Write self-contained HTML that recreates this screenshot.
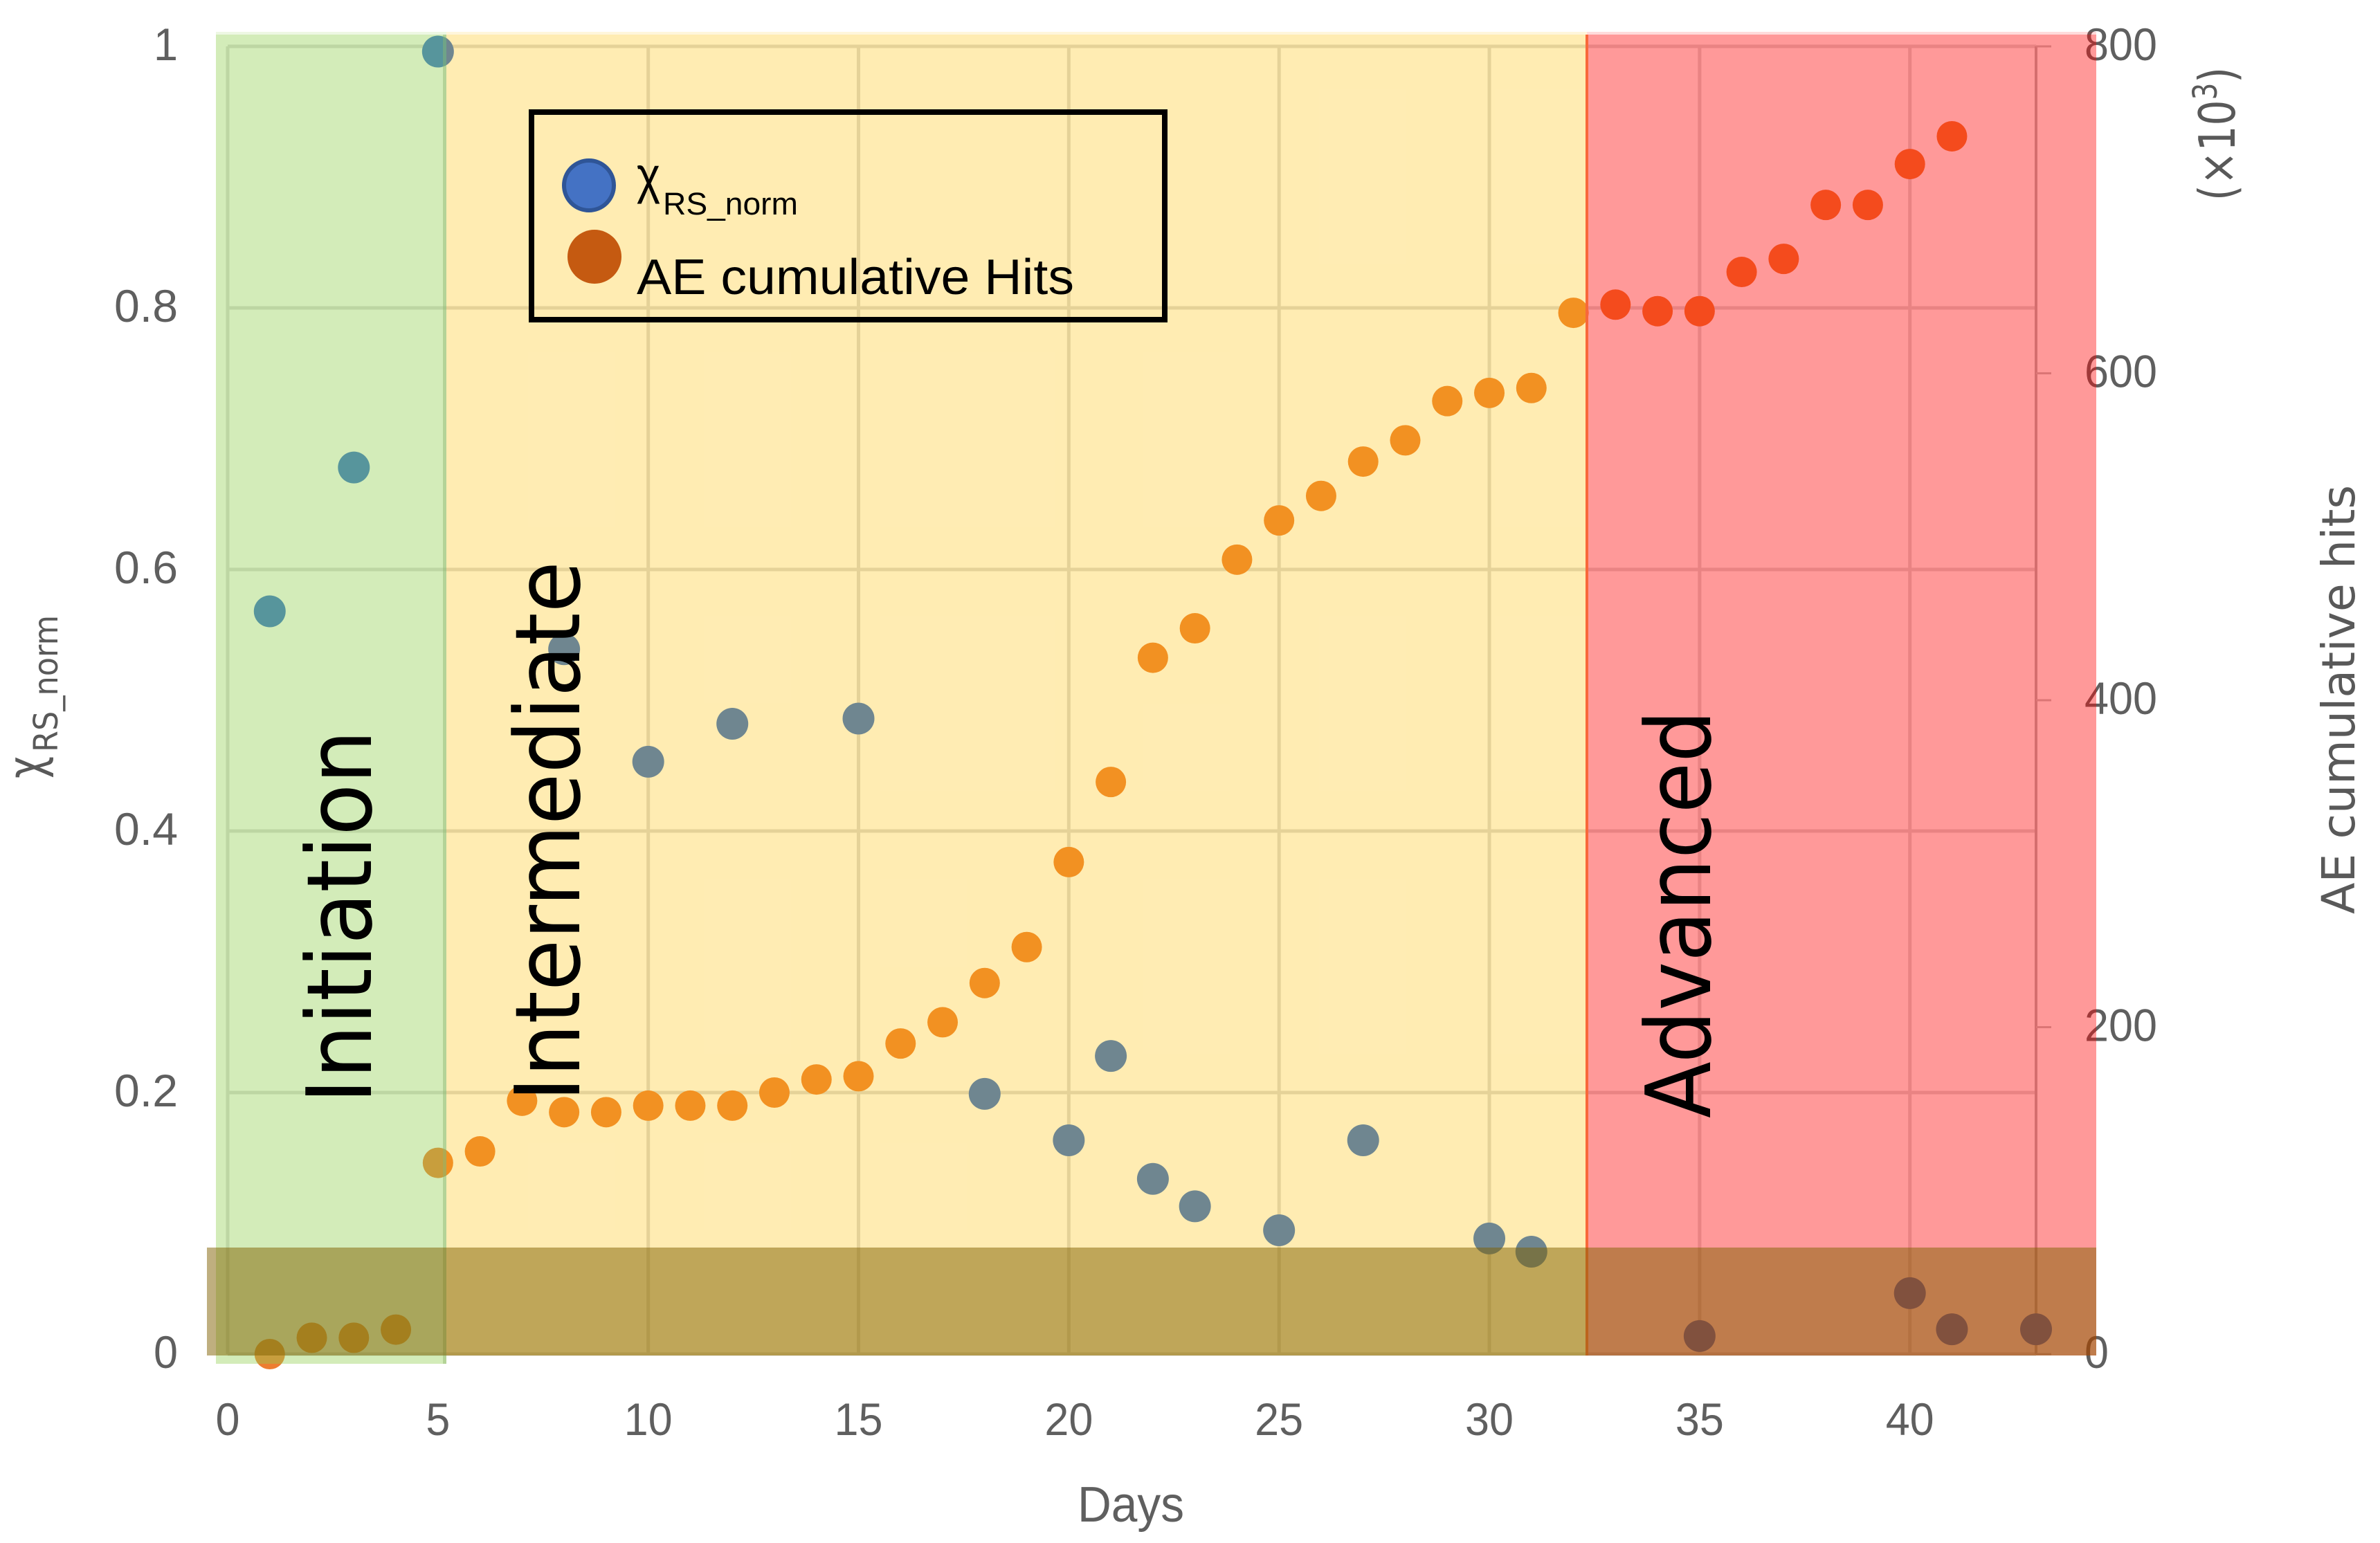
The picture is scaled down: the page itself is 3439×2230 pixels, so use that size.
<!DOCTYPE html>
<html lang="en">
<head>
<meta charset="utf-8">
<title>Acoustic emission chart</title>
<style>
html,body{margin:0;padding:0;background:#fff;width:3439px;height:2230px;overflow:hidden}
svg{display:block}
.tick{font-family:"Liberation Sans",sans-serif;font-size:66px;fill:#5f5f5f}
.dj{font-family:"DejaVu Sans",sans-serif}
.lib{font-family:"Liberation Sans",sans-serif}
</style>
</head>
<body>
<svg id="chart" width="3439" height="2230" viewBox="0 0 3439 2230">
  <rect width="3439" height="2230" fill="#fff"/>
  <g id="grid"></g>
  <g id="ticks"></g>
  <g id="series-rs"></g>
  <g id="series-ae"></g>

  <rect x="312" y="46" width="333" height="4" fill="#92d050" fill-opacity="0.16"/>
  <rect x="645" y="46" width="1648" height="4" fill="#ffc000" fill-opacity="0.14"/>
  <rect x="2293" y="46" width="736" height="4" fill="#ff0000" fill-opacity="0.14"/>
  <rect x="312" y="50" width="333" height="1921" fill="#92d050" fill-opacity="0.4"/>
  <rect x="640" y="50" width="5" height="1921" fill="#8fb56e" fill-opacity="0.45"/>
  <rect x="645" y="50" width="1648" height="1909" fill="#ffc000" fill-opacity="0.3"/>
  <rect x="2293" y="50" width="736" height="1909" fill="#ff0000" fill-opacity="0.4"/>
  <rect x="2291" y="50" width="4" height="1909" fill="#f8683a"/>
  <rect x="299" y="1803" width="2730" height="156" fill="#7f6000" fill-opacity="0.5"/>

  <text class="dj" transform="translate(536,1595) rotate(-90)" font-size="130" fill="#000" textLength="540" lengthAdjust="spacingAndGlyphs">Initiation</text>
  <text class="dj" transform="translate(837,1592) rotate(-90)" font-size="130" fill="#000" textLength="781" lengthAdjust="spacingAndGlyphs">Intermediate</text>
  <text class="dj" transform="translate(2471,1616) rotate(-90)" font-size="130" fill="#000" textLength="590" lengthAdjust="spacingAndGlyphs">Advanced</text>

  <g>
    <rect x="768" y="162" width="915" height="300" fill="none" stroke="#000" stroke-width="8"/>
    <circle cx="851" cy="268" r="36" fill="#4472c4" stroke="#2f5597" stroke-width="6"/>
    <text class="lib" x="920" y="279" font-size="74" fill="#000" textLength="34" lengthAdjust="spacingAndGlyphs">χ</text>
    <text class="lib" x="958" y="310" font-size="45" fill="#000" textLength="195" lengthAdjust="spacingAndGlyphs">RS_norm</text>
    <circle cx="859" cy="371" r="39" fill="#c55a11"/>
    <text class="lib" x="920" y="425" font-size="72" fill="#000" textLength="632" lengthAdjust="spacingAndGlyphs">AE cumulative Hits</text>
  </g>

  <text class="lib" x="1557" y="2199" font-size="72" fill="#5f5f5f" textLength="154" lengthAdjust="spacingAndGlyphs">Days</text>
  <text class="dj" transform="translate(62,1125) rotate(-90)" font-size="72" fill="#595959" textLength="32" lengthAdjust="spacingAndGlyphs">χ</text>
  <text class="dj" transform="translate(83,1087) rotate(-90)" font-size="48" fill="#595959" textLength="198" lengthAdjust="spacingAndGlyphs">RS_norm</text>
  <text class="dj" transform="translate(3402,1321) rotate(-90)" font-size="66" fill="#595959" textLength="620" lengthAdjust="spacingAndGlyphs">AE cumulative hits</text>
  <text class="dj" transform="translate(3229,290) rotate(-90)" font-size="72" fill="#595959" textLength="193" lengthAdjust="spacingAndGlyphs">(×10<tspan font-size="48" dy="-26">3</tspan><tspan dy="26">)</tspan></text>
</svg>
<script>
const xTickValues = [0, 5, 10, 15, 20, 25, 30, 35, 40];
const verticalGridDays = [0, 10, 15, 20, 25, 30, 35, 40];
const leftTickValues = [0, 0.2, 0.4, 0.6, 0.8, 1];
const leftTickLabels = ['0', '0.2', '0.4', '0.6', '0.8', '1'];
const rightTickValues = [0, 200, 400, 600, 800];
const rsDays = [1, 3, 5, 8, 10, 12, 15, 18, 20, 21, 22, 23, 25, 27, 30, 31, 35, 40, 41, 43];
const rsValues = [0.568, 0.678, 0.996, 0.539, 0.453, 0.482, 0.486, 0.199, 0.1635, 0.228, 0.134, 0.113, 0.0947, 0.1635, 0.0884, 0.0783, 0.0138, 0.0466, 0.019, 0.019];
const aeDays = [1, 2, 3, 4, 5, 6, 7, 8, 9, 10, 11, 12, 13, 14, 15, 16, 17, 18, 19, 20, 21, 22, 23, 24, 25, 26, 27, 28, 29, 30, 31, 32, 33, 34, 35, 36, 37, 38, 39, 40, 41];
const aeValues = [0, 10, 10, 15, 117, 124, 155, 148, 148, 152, 152, 152, 160, 168, 170, 190, 203, 227, 249, 301, 350, 426, 444, 486, 510, 525, 546, 559, 583, 588, 591, 637, 642, 638, 638, 662, 670, 703, 703, 728, 745];

const plot = { left: 329, right: 2942, top: 67, bottom: 1957, xMax: 43, leftMax: 1, rightMax: 800 };
function xScale(d) { return plot.left + (d / plot.xMax) * (plot.right - plot.left); }
function yLeft(v) { return plot.bottom - (v / plot.leftMax) * (plot.bottom - plot.top); }
function yRight(v) { return plot.bottom - (v / plot.rightMax) * (plot.bottom - plot.top); }
function labelWidth(s) { return s.replace('.', '').length * 35 + (s.indexOf('.') >= 0 ? 22 : 0); }

const NS = 'http://www.w3.org/2000/svg';
function make(tag, parent, attrs) {
  const el = document.createElementNS(NS, tag);
  for (const k in attrs) el.setAttribute(k, attrs[k]);
  parent.appendChild(el);
  return el;
}

const grid = document.getElementById('grid');
const ticks = document.getElementById('ticks');
const seriesRs = document.getElementById('series-rs');
const seriesAe = document.getElementById('series-ae');

verticalGridDays.forEach(function (d) {
  const line = make('line', grid, { x1: xScale(d), x2: xScale(d), y1: plot.top, y2: plot.bottom, stroke: '#dadada', 'stroke-width': 5 });
  
  
});

xTickValues.forEach(function (d) {
  const s = String(d);
  const label = make('text', ticks, { x: xScale(d), y: 2074, 'text-anchor': 'middle', class: 'tick', textLength: labelWidth(s), lengthAdjust: 'spacingAndGlyphs' });
  label.textContent = s;
  
  
});

leftTickValues.forEach(function (v, i) {
  const line = make('line', grid, { x1: plot.left, x2: plot.right, y1: yLeft(v), y2: yLeft(v), stroke: '#dadada', 'stroke-width': 5 });
  
  
  const s = leftTickLabels[i];
  const label = make('text', ticks, { x: 257, y: yLeft(v) + 20, 'text-anchor': 'end', class: 'tick', textLength: labelWidth(s), lengthAdjust: 'spacingAndGlyphs' });
  label.textContent = s;
  
  
});

const rightAxis = make('line', grid, { x1: plot.right, x2: plot.right, y1: plot.top, y2: plot.bottom, stroke: '#b8b8b8', 'stroke-width': 4 });



rightTickValues.forEach(function (v) {
  const mark = make('line', grid, { x1: plot.right, x2: plot.right + 22, y1: yRight(v), y2: yRight(v), stroke: '#c4c4c4', 'stroke-width': 3 });
  
  
  const s = String(v);
  const label = make('text', ticks, { x: 3012, y: yRight(v) + 20, class: 'tick', textLength: labelWidth(s), lengthAdjust: 'spacingAndGlyphs' });
  label.textContent = s;
  
  
});

rsDays.forEach(function (d, i) {
  const dot = make('circle', seriesRs, { cx: xScale(d), cy: yLeft(rsValues[i]), r: 23, fill: '#316ecf' });
  
  
});

aeDays.forEach(function (d, i) {
  const dot = make('circle', seriesAe, { cx: xScale(d), cy: yRight(aeValues[i]), r: 22, fill: '#ed7d31' });
  
  
});
</script>
</body>
</html>
